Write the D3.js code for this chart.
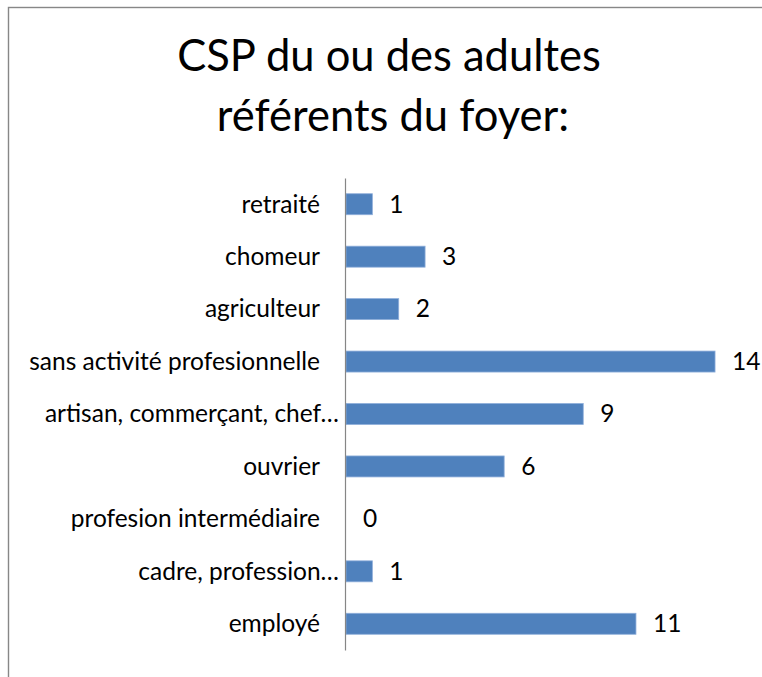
<!DOCTYPE html>
<html>
<head>
<meta charset="utf-8">
<script src="https://cdn.jsdelivr.net/npm/d3@7/dist/d3.min.js"></script>
<style>
  html, body { margin: 0; padding: 0; background: #fff; }
  svg { display: block; }
  text { font-family: Lato, "Open Sans", sans-serif; fill: #000; }
</style>
</head>
<body>
<svg id="chart" width="762" height="677"></svg>
<script>
const titleLines = ["CSP du ou des adultes", "référents du foyer:"];
const categories = [
  "retraité",
  "chomeur",
  "agriculteur",
  "sans activité profesionnelle",
  "artisan, commerçant, chef…",
  "ouvrier",
  "profesion intermédiaire",
  "cadre, profession…",
  "employé"
];
const values = [1, 3, 2, 14, 9, 6, 0, 1, 11];
const xDomainMax = 16;

const svg = d3.select("#chart");

// chart frame
svg.append("rect")
  .attr("x", 8.5).attr("y", 7.5)
  .attr("width", 800).attr("height", 720)
  .attr("fill", "#fff")
  .attr("stroke", "#878787")
  .attr("stroke-width", 1.4);

// title
svg.append("g").selectAll("text")
  .data(titleLines)
  .join("text")
  .attr("x", (d, i) => i === 0 ? 389 : 393)
  .attr("y", (d, i) => 71 + i * 60)
  .attr("text-anchor", "middle")
  .style("font-size", "43.5px")
  .text(d => d);

const x = d3.scaleLinear().domain([0, xDomainMax]).range([346, 346 + 26.36 * xDomainMax]);
const y = d3.scaleBand().domain(categories).range([178, 650]).paddingInner(0.6).paddingOuter(0.3);

// bars
svg.append("g").selectAll("rect")
  .data(categories.map((c, i) => ({ c, v: values[i] })))
  .join("rect")
  .attr("x", x(0))
  .attr("y", d => y(d.c))
  .attr("width", d => Math.max(0, x(d.v) - x(0)))
  .attr("height", y.bandwidth())
  .attr("fill", "#4F81BD")
  .attr("stroke", d => d.v > 0 ? "#8EAEDA" : "none")
  .attr("stroke-width", 0.8);

// value labels
svg.append("g").selectAll("text")
  .data(categories.map((c, i) => ({ c, v: values[i] })))
  .join("text")
  .attr("x", d => x(d.v) + 17)
  .attr("y", d => y(d.c) + y.bandwidth() / 2)
  .attr("dy", "0.34em")
  .style("font-size", "24.5px")
  .text(d => d.v);

// category axis
const axis = svg.append("g")
  .attr("transform", `translate(${x(0) - 1},0)`)
  .call(d3.axisLeft(y).tickSizeInner(0).tickSizeOuter(0).tickPadding(25));
axis.select(".domain").attr("stroke", "#868686").attr("stroke-width", 1.2);
axis.selectAll(".tick text")
  .style("font-size", "24.5px")
  .style("font-family", "Lato, 'Open Sans', sans-serif")
  .attr("fill", "#000")
  .attr("dy", "0.34em")
  .attr("x", d => d.endsWith("…") ? -6 : -25);
</script>
</body>
</html>
